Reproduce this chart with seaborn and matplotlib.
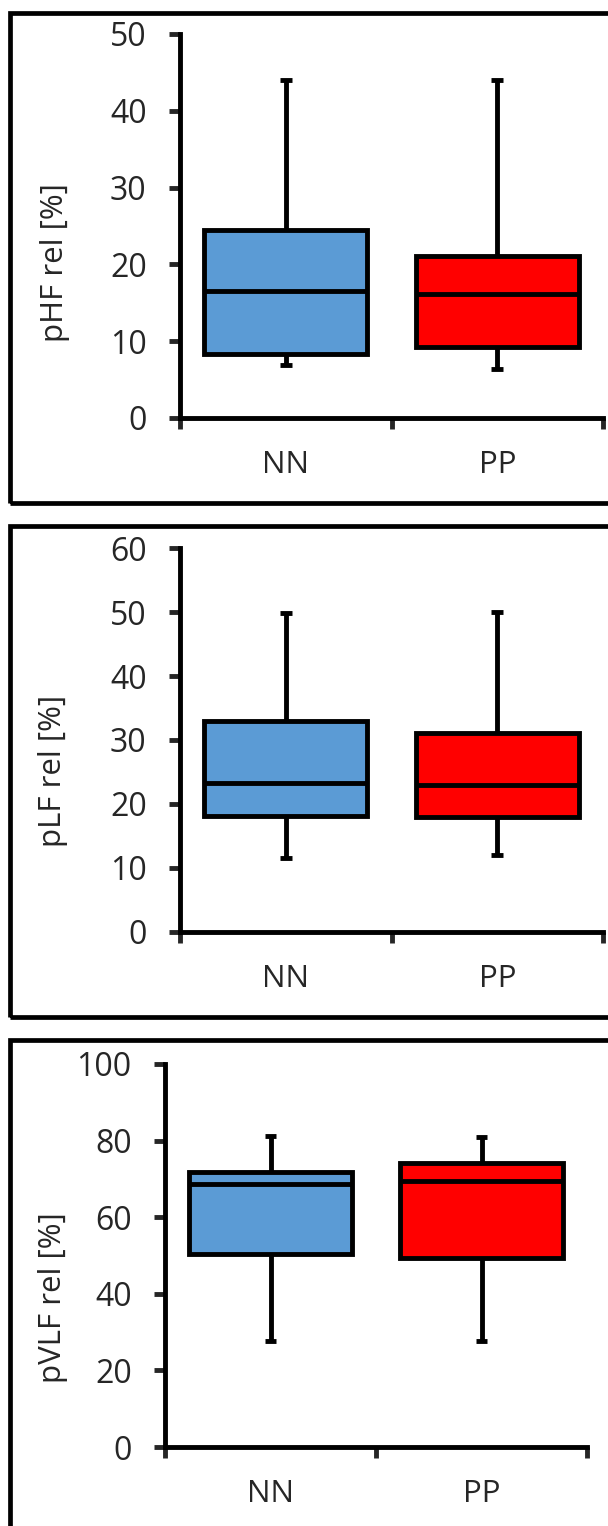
import numpy as np
import pandas as pd
import matplotlib
matplotlib.use("Agg")
import matplotlib.pyplot as plt
import seaborn as sns
from matplotlib.patches import Rectangle

# five-number summaries: low whisker, Q1, median, Q3, high whisker
groups = ["NN", "PP"]
phf_nn = [6.9, 8.3, 16.6, 24.5, 44.0]
phf_pp = [6.4, 9.3, 16.1, 21.1, 44.0]
plf_nn = [11.6, 18.1, 23.3, 33.0, 49.8]
plf_pp = [12.0, 18.0, 23.0, 31.1, 50.0]
pvlf_nn = [27.7, 50.4, 68.7, 71.8, 81.2]
pvlf_pp = [27.7, 49.3, 69.4, 74.2, 80.9]

labels = ["pHF rel [%]", "pLF rel [%]", "pVLF rel [%]"]
ymax = [50, 60, 100]
ystep = [10, 10, 20]

colors = ["#5B9BD5", "#FF0000"]

sns.set_style("ticks")
plt.rcParams["font.family"] = ["Open Sans", "DejaVu Sans"]

W, H = 608, 1526
fig = plt.figure(figsize=(W / 100, H / 100), dpi=100)

# pixel layout: (left, right, top, bottom) of each plot area, and frame top/bottom
axes_px = [(180, 603, 34, 418), (180, 603, 548, 932), (165, 587, 1064, 1447)]
frames_px = [(13, 503), (526, 1017), (1040, 1545)]
ylab_pos = [(-0.26, 0.406), (-0.265, 0.42), (-0.23, 0.39)]

series = [(phf_nn, phf_pp), (plf_nn, plf_pp), (pvlf_nn, pvlf_pp)]
lw = 3.5

for i, (a, b) in enumerate(series):
    l, r, t, btm = axes_px[i]
    ax = fig.add_axes([l / W, 1 - btm / H, (r - l) / W, (btm - t) / H])
    df = pd.DataFrame({"group": ["NN"] * 5 + ["PP"] * 5, "value": a + b})
    sns.boxplot(data=df, x="group", y="value", hue="group", palette=colors,
                order=groups, whis=(0, 100), width=0.77, linewidth=lw,
                saturation=1, linecolor="black", legend=False, ax=ax,
                capwidths=0.055,
                capprops={"solid_capstyle": "butt"},
                whiskerprops={"solid_capstyle": "butt"},
                medianprops={"solid_capstyle": "butt"})
    ax.set_xlim(-0.5, 1.5)
    ax.set_ylim(0, ymax[i])
    ax.set_yticks(np.arange(0, ymax[i] + 1, ystep[i]))
    ax.set_xticks([-0.5, 0.5, 1.5])
    ax.set_xticklabels([])
    ax.set_xticks([0, 1], minor=True)
    ax.set_xticklabels(groups, minor=True)
    ax.tick_params(axis="x", which="minor", length=0, pad=23, labelsize=22.5)
    ax.tick_params(axis="x", which="major", length=8, width=lw, direction="out")
    ax.tick_params(axis="y", length=8, width=lw, direction="out", pad=16,
                   labelsize=23)
    for s in ["top", "right"]:
        ax.spines[s].set_visible(False)
    for s in ["left", "bottom"]:
        ax.spines[s].set_linewidth(lw)
        ax.spines[s].set_color("black")
        ax.spines[s].set_capstyle("projecting")
    ax.set_xlabel("")
    ax.set_ylabel(labels[i], fontsize=22.5)
    ax.yaxis.set_label_coords(*ylab_pos[i])
    ax.patch.set_alpha(0)

    ft, fb = frames_px[i]
    fig.patches.append(Rectangle((10 / W, 1 - fb / H), 700 / W, (fb - ft) / H,
                                 transform=fig.transFigure, fill=False,
                                 edgecolor="black", linewidth=3.4, zorder=0))

fig.savefig("out.png", dpi=100)
